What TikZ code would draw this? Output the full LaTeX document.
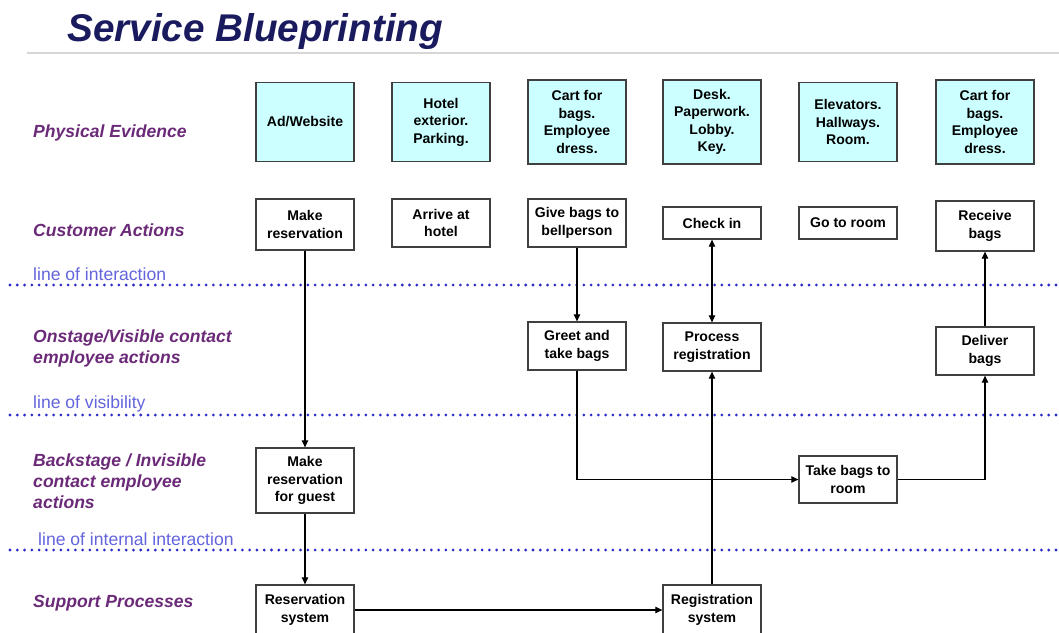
\documentclass[tikz,border=0pt]{standalone}
\usepackage{fontspec}
\setmainfont{Liberation Sans}
\usetikzlibrary{arrows.meta,positioning}
\definecolor{evid}{HTML}{CCFFFF}
\definecolor{navy}{HTML}{1A1A5E}
\definecolor{lane}{HTML}{6B2A78}
\definecolor{dots}{HTML}{2B2BC8}
\definecolor{linetxt}{HTML}{6464DC}
\definecolor{rule}{HTML}{D6D6D6}
\newcommand{\lanelabel}[3]{%
  \node[anchor=west,align=left,inner sep=0pt,text=lane,font=\fontsize{15}{17.9}\selectfont\bfseries\itshape] (#1) at (33,#2) {#3};
}
\newcommand{\sepline}[4]{%
  \draw[dots,line width=2.6pt,line cap=round,dash pattern=on 0pt off 6.2pt] (10,#2) -- (1059,#2);
  \node[anchor=west,inner sep=0pt,text=linetxt,font=\fontsize{15}{18}\selectfont] (#1) at (#3,#2-11) {#4};
}

\begin{document}
\begin{tikzpicture}[x=0.03cm,y=-0.03cm,
    box/.style={draw=black!75,line width=1.1pt,minimum width=2.94cm,inner sep=1pt,
      align=center,font=\fontsize{12}{14.9}\selectfont\bfseries},
    evbox/.style={box,fill=evid},
    flow/.style={-{Triangle[length=6pt,width=5.5pt]},line width=0.9pt},
    twoway/.style={{Triangle[length=6pt,width=5.5pt]}-{Triangle[length=6pt,width=5.5pt]},line width=0.9pt}]
        \useasboundingbox (0,0) rectangle (1059,632);
        % title
        \node[anchor=base west,inner sep=0pt,text=navy,font=\fontsize{33}{36}\selectfont\bfseries\itshape] (title) at (67,41) {Service Blueprinting};
        \draw[rule,line width=1.7pt] (27,53) -- (1059,53);
        % lanes
        \lanelabel{pe}{133}{Physical Evidence}
        \lanelabel{ca}{230}{Customer Actions}
        \lanelabel{on}{348}{Onstage/Visible contact\\employee actions}
        \lanelabel{back}{481}{Backstage / Invisible\\contact employee\\actions}
        \lanelabel{sup}{603}{Support Processes}
        \sepline{loi}{285}{33}{line of interaction}
        \sepline{lov}{415}{33}{line of visibility}
        \sepline{lii}{550}{38}{line of internal interaction}
        % physical evidence
        \node[evbox,minimum height=2.37cm] (ev1) at (305,122) {Ad/Website};
        \node[evbox,minimum height=2.37cm] (ev2) at (441,122) {Hotel\\exterior.\\Parking.};
        \node[evbox,minimum height=2.52cm] (ev3) at (577,122) {Cart for\\bags.\\Employee\\dress.};
        \node[evbox,minimum height=2.52cm] (ev4) at (712,122) {Desk.\\Paperwork.\\Lobby.\\Key.};
        \node[evbox,minimum height=2.37cm] (ev5) at (848,122) {Elevators.\\Hallways.\\Room.};
        \node[evbox,minimum height=2.52cm] (ev6) at (985,122) {Cart for\\bags.\\Employee\\dress.};
        % customer actions
        \node[box,minimum height=1.53cm] (mkres) at (305,224.5) {Make\\reservation};
        \node[box,minimum height=1.44cm] (arrive) at (441,223) {Arrive at\\hotel};
        \node[box,minimum height=1.44cm] (give) at (577,223) {Give bags to\\bellperson};
        \node[box,minimum height=0.96cm] (checkin) at (712,223) {Check in};
        \node[box,minimum height=0.96cm] (goroom) at (848,223) {Go to room};
        \node[box,minimum height=1.5cm] (receive) at (985,226) {Receive\\bags};
        % onstage
        \node[box,minimum height=1.44cm] (greet) at (577,346) {Greet and\\take bags};
        \node[box,minimum height=1.44cm] (procreg) at (712,347) {Process\\registration};
        \node[box,minimum height=1.44cm] (deliver) at (985,351) {Deliver\\bags};
        % backstage
        \node[box,minimum height=1.95cm] (mkguest) at (305,480.5) {Make\\reservation\\for guest};
        \node[box,minimum height=1.41cm] (takebags) at (848,479.5) {Take bags to\\room};
        % support
        \node[box,minimum height=1.5cm] (ressys) at (305,610) {Reservation\\system};
        \node[box,minimum height=1.5cm] (regsys) at (712,610) {Registration\\system};
        % connectors
        \draw[flow] (mkres) -- (mkguest);
        \draw[flow] (mkguest) -- (ressys);
        \draw[flow] (ressys) -- (regsys);
        \draw[flow] (regsys) -- (procreg);
        \draw[twoway] (checkin) -- (procreg);
        \draw[flow] (give) -- (greet);
        \draw[flow] (greet) |- (takebags);
        \draw[flow] (takebags) -| (deliver);
        \draw[flow] (deliver) -- (receive);
      \end{tikzpicture}
\end{document}
